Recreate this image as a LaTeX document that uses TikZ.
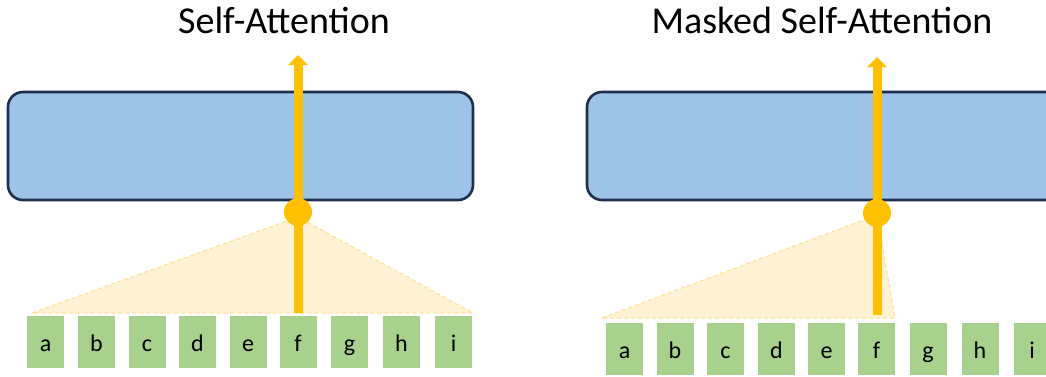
\documentclass[tikz,border=0pt]{standalone}
\usepackage{fontspec}
\setmainfont{Carlito}
\usetikzlibrary{arrows.meta}
\definecolor{boxblue}{HTML}{9DC3E6}
\definecolor{boxedge}{HTML}{1F2F4F}
\definecolor{gold}{HTML}{FFC000}
\definecolor{tri}{HTML}{FFF2D4}
\definecolor{triedge}{HTML}{FFE08A}
\definecolor{tok}{HTML}{A9D18E}
\tikzset{
  token/.style={fill=tok, draw=none, minimum width=37pt, minimum height=52pt, inner sep=0pt, text height=24pt, text depth=6pt, font=\fontsize{24}{28}\selectfont},
  layer/.style={fill=boxblue, draw=boxedge, line width=2.6pt, rounded corners=15pt},
  cone/.style={fill=tri, draw=triedge, dashed, line width=1pt, dash pattern=on 4pt off 3pt},
  flow/.style={draw=gold, line width=9pt, -{Triangle[width=19pt,length=10pt]}},
  hub/.style={circle, fill=gold, minimum size=28pt, inner sep=0pt},
  title/.style={font=\fontsize{38}{44}\selectfont, anchor=base}
}
\begin{document}
\begin{tikzpicture}[x=1pt,y=-1pt]
\clip (0,0) rectangle (1046,376);
\fill[white] (0,0) rectangle (1046,376);
% ---------- left panel ----------
\node[title] (t1) at (284,33) {Self-Attention};
\draw[cone] (32,313) -- (298,217) -- (473,313) -- cycle;
\draw[layer] (8,92) rectangle (473,200);
\foreach \n/\x in {a/45.5,b/96.5,c/147,d/197.5,e/248,f/298,g/349.5,h/401.5,i/453.5}
  \node[token] (L\n) at (\x,342) {\n};
\coordinate (Ltip) at (298,55);
\draw[flow] (298,313) -- (Ltip);
\node[hub] (Lhub) at (298,212) {};
% ---------- right panel ----------
\node[title] (t2) at (822,33) {Masked Self-Attention};
\draw[cone] (602,318) -- (877,215) -- (895,318) -- cycle;
\draw[layer] (587,92) rectangle (1075,200);
\foreach \n/\x in {a/624.5,b/675,c/725.5,d/776.5,e/826.5,f/876.5,g/928,h/980,i/1032}
  \node[token] (R\n) at (\x,349) {\n};
\coordinate (Rtip) at (877,57);
\draw[flow] (877,315) -- (Rtip);
\node[hub] (Rhub) at (877,213) {};
\end{tikzpicture}
\end{document}
